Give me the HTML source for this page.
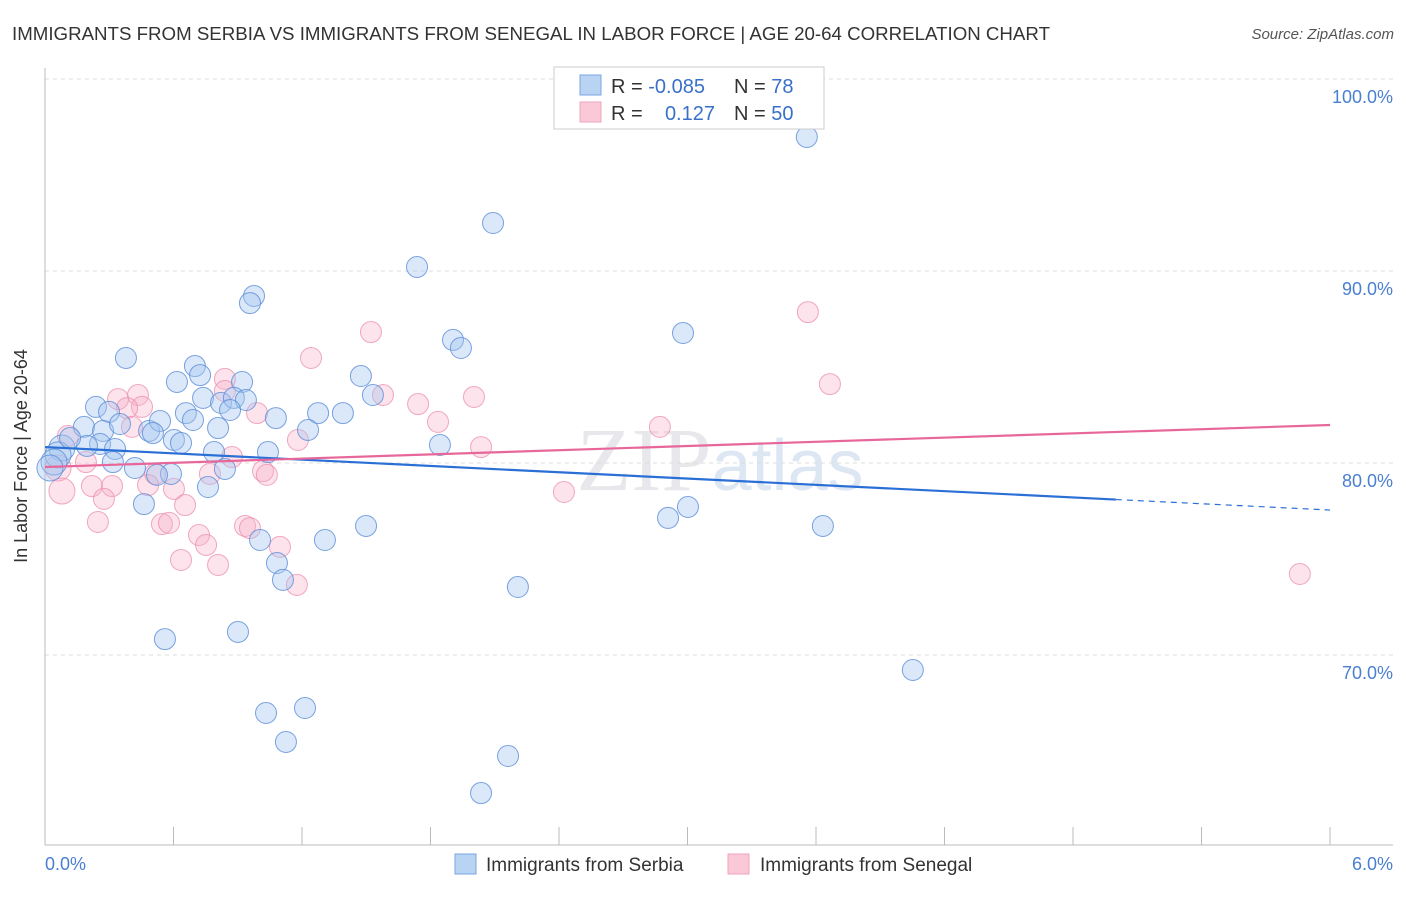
<!DOCTYPE html>
<html><head><meta charset="utf-8"><style>
body{margin:0;background:#fff;font-family:"Liberation Sans",sans-serif;}
</style></head><body>
<svg width="1406" height="892" xmlns="http://www.w3.org/2000/svg" id="chart" font-family="Liberation Sans, sans-serif">
<text x="12" y="40" font-size="18" fill="#333" textLength="1038" lengthAdjust="spacingAndGlyphs">IMMIGRANTS FROM SERBIA VS IMMIGRANTS FROM SENEGAL IN LABOR FORCE | AGE 20-64 CORRELATION CHART</text>
<text x="1394" y="39" font-size="15" fill="#555" font-style="italic" text-anchor="end">Source: ZipAtlas.com</text>
<text x="720" y="490" font-size="90" fill="#e8e8ec" text-anchor="middle" font-family="Liberation Serif, serif">ZIP<tspan fill="#dde6f3" font-family="Liberation Sans, sans-serif" font-size="72">atlas</tspan></text>
<g id="grid"></g>
<g id="axes"></g>
<g id="points"></g>
<g id="trends"></g>
<text x="27" y="456" font-size="18" fill="#333" text-anchor="middle" transform="rotate(-90 27 456)">In Labor Force | Age 20-64</text>
<g>
<rect x="554" y="67" width="270" height="62" fill="#fff" stroke="#ccc"/>
<rect x="580" y="75" width="21" height="20" fill="#b9d3f3" stroke="#7aa6e2"/>
<rect x="580" y="102" width="21" height="20" fill="#fbc8d8" stroke="#f2a3bc"/>
<text x="611" y="93" font-size="20" fill="#333">R = <tspan fill="#3a70c8">-0.085</tspan></text>
<text x="734" y="93" font-size="20" fill="#333">N = <tspan fill="#3a70c8">78</tspan></text>
<text x="611" y="120" font-size="20" fill="#333">R = </text>
<text x="715" y="120" font-size="20" fill="#3a70c8" text-anchor="end">0.127</text>
<text x="734" y="120" font-size="20" fill="#333">N = <tspan fill="#3a70c8">50</tspan></text>
</g>
<g>
<rect x="455" y="854" width="21" height="20" fill="#b9d3f3" stroke="#7aa6e2"/>
<text x="486" y="871" font-size="19" fill="#333">Immigrants from Serbia</text>
<rect x="728" y="854" width="21" height="20" fill="#fbc8d8" stroke="#f2a3bc"/>
<text x="760" y="871" font-size="19" fill="#333">Immigrants from Senegal</text>
</g>
</svg>
<script>
const yTicks=[100,90,80,70];
const yTickLabels=["100.0%","90.0%","80.0%","70.0%"];
const xTickLabels=["0.0%","6.0%"];
const serbiaX=[3.557,2.092,1.737,0.976,0.957,2.979,1.905,1.942,0.378,0.700,1.475,0.616,0.724,0.920,1.531,0.738,0.822,0.882,0.938,0.238,0.299,0.864,0.658,1.078,1.275,1.391,0.182,0.271,0.350,0.486,0.537,0.691,0.808,1.228,0.504,0.602,0.635,0.257,0.327,0.196,1.844,0.789,1.041,0.079,0.061,0.042,0.023,0.317,0.420,0.588,0.840,0.523,0.761,0.462,2.909,3.002,1.499,3.632,1.004,1.307,1.083,1.111,2.208,0.560,0.901,4.052,1.032,1.214,1.125,2.162,2.036,0.117];
const serbiaY=[96.98,92.5,90.21,88.70,88.33,86.77,86.41,85.99,85.47,85.05,84.53,84.22,84.58,84.22,83.54,83.39,83.13,83.39,83.28,82.92,82.66,82.76,82.60,82.34,82.60,82.60,81.88,81.67,82.03,81.67,82.19,82.24,81.82,81.72,81.56,81.20,81.04,80.99,80.73,80.89,80.94,80.57,80.57,80.78,80.42,80.05,79.74,80.05,79.74,79.43,79.69,79.38,78.75,77.86,77.14,77.71,76.72,76.72,75.99,75.99,74.79,73.91,73.54,70.83,71.20,69.22,66.98,67.24,65.47,64.74,62.81,81.3];
const senegalX=[3.562,1.522,1.242,3.665,0.840,0.434,0.341,0.840,1.578,1.742,2.003,0.453,0.383,0.990,1.835,0.406,2.871,1.181,2.036,0.107,0.873,0.191,0.061,1.018,1.036,0.770,0.514,0.219,0.313,0.481,0.602,0.079,2.423,0.275,0.654,0.247,0.546,0.579,0.934,0.957,0.719,0.752,1.097,0.635,0.808,1.176,5.859];
const senegalY=[87.86,86.82,85.47,84.11,84.38,83.54,83.33,83.75,83.54,83.07,83.44,82.92,82.86,82.60,82.14,81.88,81.88,81.20,80.83,81.41,80.31,80.05,79.74,79.58,79.38,79.43,79.43,78.80,78.80,78.85,78.65,78.54,78.49,78.13,77.81,76.93,76.82,76.88,76.72,76.61,76.25,75.73,75.63,74.95,74.69,73.65,74.22];
const serbiaTrend=[80.83,77.55];
const senegalTrend=[79.79,81.98];
const NS="http://www.w3.org/2000/svg";
const sx=v=>45+v*214.17;
const sy=v=>79+(100-v)*19.2;
function mk(tag,attrs,parent){const e=document.createElementNS(NS,tag);for(const k in attrs)e.setAttribute(k,attrs[k]);parent.appendChild(e);return e;}
const grid=document.getElementById('grid'),axes=document.getElementById('axes'),pts=document.getElementById('points'),tr=document.getElementById('trends');
yTicks.forEach((t,i)=>{
 const l=mk('line',{x1:45,x2:1393,y1:sy(t),y2:sy(t),stroke:'#ddd','stroke-dasharray':'4,4'},grid);
 
 
 const tx=mk('text',{x:1393,y:sy(t)+24,'font-size':18,fill:'#4a7fd0','text-anchor':'end'},grid);
 tx.textContent=yTickLabels[i];
 
 
});
let a=mk('line',{x1:45,x2:45,y1:68,y2:845,stroke:'#bbb'},axes);


a=mk('line',{x1:45,x2:1393,y1:845,y2:845,stroke:'#bbb'},axes);


for(let i=0;i<=10;i++){
 const t=mk('line',{x1:sx(i*0.6),x2:sx(i*0.6),y1:827,y2:845,stroke:'#bbb'},axes);
 
 
}
let xl=mk('text',{x:45,y:870,'font-size':18,fill:'#4a7fd0'},axes);xl.textContent=xTickLabels[0];


xl=mk('text',{x:1393,y:870,'font-size':18,fill:'#4a7fd0','text-anchor':'end'},axes);xl.textContent=xTickLabels[1];


function dots(X,Y,fill,stroke,name){
 X.forEach((x,i)=>{
  const big=x<0.1&&Y[i]>78&&Y[i]<81;
  const c=mk('circle',{cx:sx(x),cy:sy(Y[i]),r:big?13:10.5,fill:fill,stroke:stroke,'stroke-width':1},pts);
  
  
 });
}
dots(senegalX,senegalY,'rgba(246,175,200,0.35)','rgba(236,140,172,0.75)','senegal-point');
dots(serbiaX,serbiaY,'rgba(165,198,240,0.4)','rgba(90,140,215,0.8)','serbia-point');
const bEnd=5.0,bMid=serbiaTrend[0]+(serbiaTrend[1]-serbiaTrend[0])*bEnd/6;
let l=mk('line',{x1:sx(0),y1:sy(serbiaTrend[0]),x2:sx(bEnd),y2:sy(bMid),stroke:'#2a6fd6','stroke-width':2.2},tr);


l=mk('line',{x1:sx(bEnd),y1:sy(bMid),x2:sx(6),y2:sy(serbiaTrend[1]),stroke:'#2a6fd6','stroke-width':1.2,'stroke-dasharray':'6,5'},tr);


l=mk('line',{x1:sx(0),y1:sy(senegalTrend[0]),x2:sx(6),y2:sy(senegalTrend[1]),stroke:'#e8679a','stroke-width':2.2},tr);


</script>
</body></html>
